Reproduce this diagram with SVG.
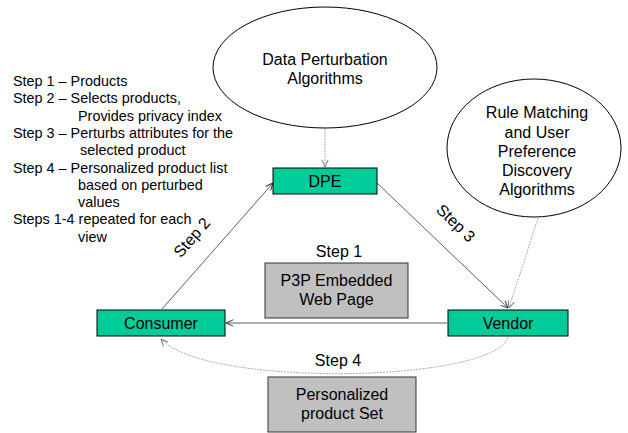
<svg xmlns="http://www.w3.org/2000/svg" width="628" height="433" viewBox="0 0 628 433">
  <defs>
    <style>
      text { font-family: "Liberation Sans", Arial, sans-serif; fill: #000; }
      .node { font-size: 16px; text-anchor: middle; }
      .note { font-size: 14.4px; }
      .label { font-size: 16px; text-anchor: middle; }
      .green { fill: #00CC99; stroke: #000; stroke-width: 1; }
      .grey { fill: #C0C0C0; stroke: #333; stroke-width: 1; }
      .oval { fill: #fff; stroke: #000; stroke-width: 1; }
      .flow { fill: none; stroke: #333; stroke-width: 0.8; marker-end: url(#open); }
      .hint { fill: none; stroke: #999; stroke-width: 0.8; stroke-dasharray: 2 1; marker-end: url(#openGrey); }
    </style>
    <marker id="open" viewBox="0 0 10 10" refX="10" refY="5" markerWidth="8" markerHeight="8" markerUnits="userSpaceOnUse" orient="auto">
      <path d="M1,1 L10,5 L1,9" fill="none" stroke="#333" stroke-width="1.2"/>
    </marker>
    <marker id="openGrey" viewBox="0 0 10 10" refX="10" refY="5" markerWidth="8" markerHeight="8" markerUnits="userSpaceOnUse" orient="auto">
      <path d="M1,1 L10,5 L1,9" fill="none" stroke="#777" stroke-width="1.2"/>
    </marker>
  </defs>

  <rect width="628" height="433" fill="#fff"/>

  <!-- step notes -->
  <g id="notes" class="note">
    <text x="13" y="86">Step 1 – Products</text>
    <text x="13" y="103.3">Step 2 – Selects products,</text>
    <text x="78" y="120.6">Provides privacy index</text>
    <text x="13" y="137.9">Step 3 – Perturbs attributes for the</text>
    <text x="80" y="155.2">selected product</text>
    <text x="13" y="172.5">Step 4 – Personalized product list</text>
    <text x="78" y="189.8">based on perturbed</text>
    <text x="78" y="207.1">values</text>
    <text x="13" y="224.4">Steps 1-4 repeated for each</text>
    <text x="78" y="241.7">view</text>
  </g>

  <!-- connectors -->
  <g id="connectors">
    <line class="hint" x1="325" y1="129" x2="325" y2="167"/>
    <line class="hint" x1="538" y1="218" x2="509" y2="308"/>
    <line class="flow" x1="162" y1="309" x2="273" y2="183"/>
    <line class="flow" x1="377" y1="183" x2="508" y2="308"/>
    <line class="flow" x1="447" y1="323" x2="226" y2="323"/>
    <path class="hint" d="M508,337 C495,383 205,388 161,339"/>
    <text class="label" transform="translate(196,241) rotate(-49)">Step 2</text>
    <text class="label" transform="translate(452,227) rotate(44)">Step 3</text>
    <text class="label" x="339" y="257">Step 1</text>
    <text class="label" x="338" y="366">Step 4</text>
  </g>

  <g id="dpa">
    <ellipse class="oval" cx="325" cy="67.5" rx="112" ry="60.5"/>
    <text class="node" x="325" y="65">Data Perturbation</text>
    <text class="node" x="325" y="84">Algorithms</text>
  </g>

  <g id="rules">
    <ellipse class="oval" cx="534" cy="148" rx="87" ry="69"/>
    <text class="node" x="537" y="118">Rule Matching</text>
    <text class="node" x="537" y="137.5">and User</text>
    <text class="node" x="537" y="157">Preference</text>
    <text class="node" x="537" y="176">Discovery</text>
    <text class="node" x="537" y="195">Algorithms</text>
  </g>

  <g id="dpe">
    <rect class="green" x="273" y="168" width="104" height="26"/>
    <text class="node" x="325" y="187">DPE</text>
  </g>

  <g id="consumer">
    <rect class="green" x="97" y="310" width="128" height="26"/>
    <text class="node" x="161" y="329">Consumer</text>
  </g>

  <g id="vendor">
    <rect class="green" x="448" y="310" width="120" height="26"/>
    <text class="node" x="508" y="329">Vendor</text>
  </g>

  <g id="p3p">
    <rect class="grey" x="265" y="263" width="143" height="55"/>
    <text class="node" x="336.5" y="286">P3P Embedded</text>
    <text class="node" x="336.5" y="305">Web Page</text>
  </g>

  <g id="product-set">
    <rect class="grey" x="268" y="377" width="148" height="55"/>
    <text class="node" x="342" y="400">Personalized</text>
    <text class="node" x="342" y="419">product Set</text>
  </g>
</svg>
